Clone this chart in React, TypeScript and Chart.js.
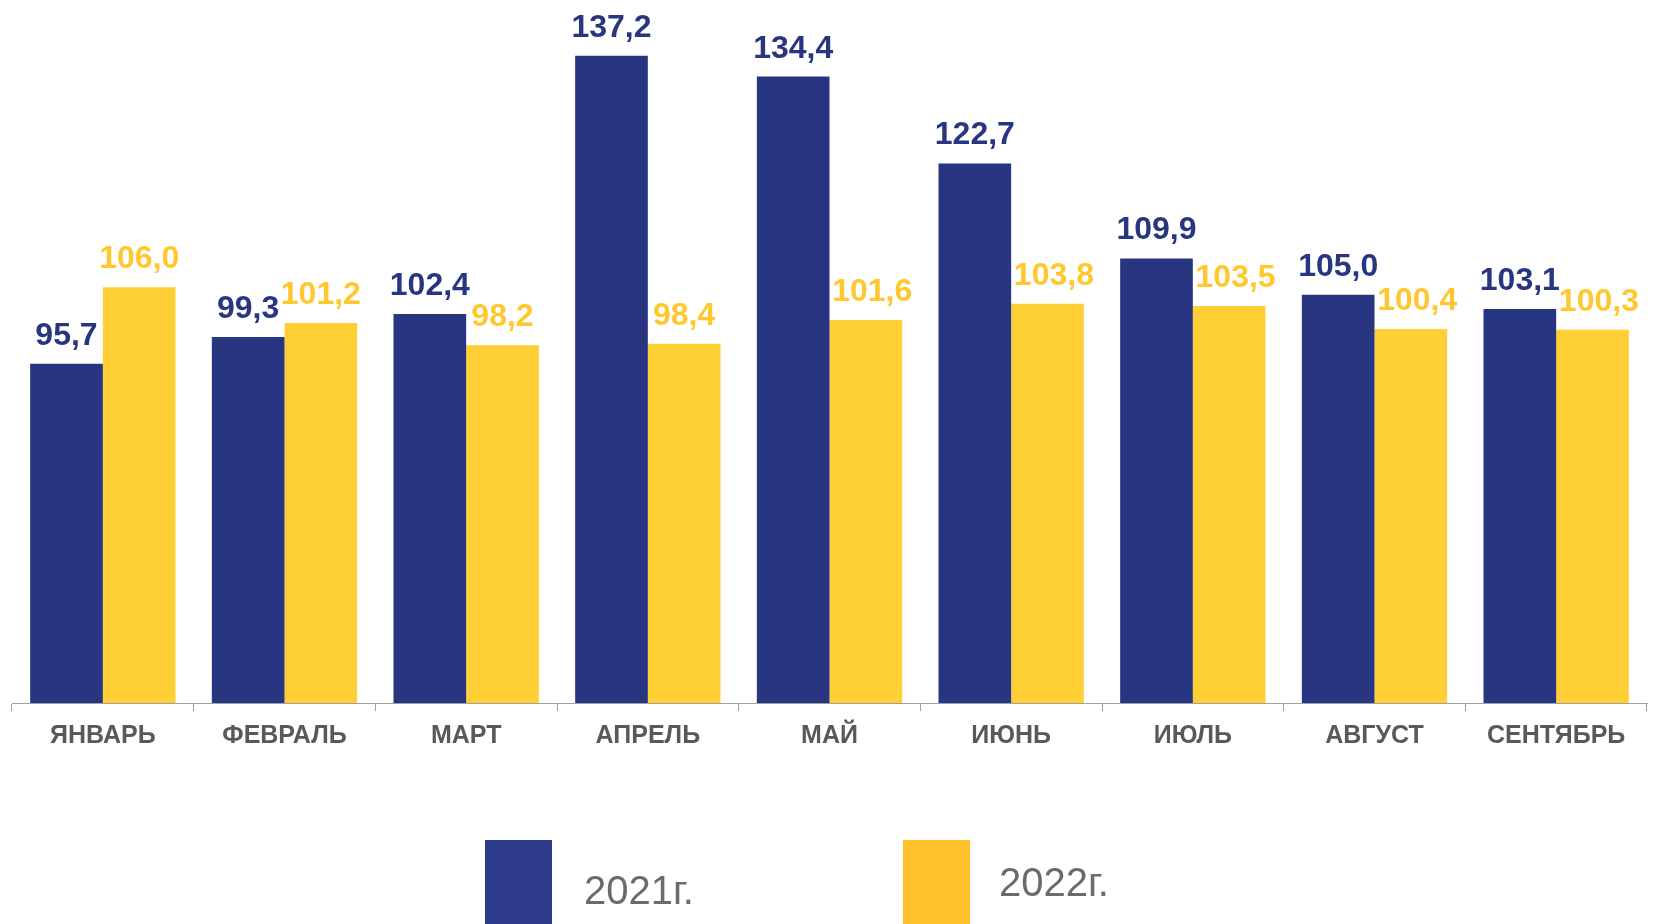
import React, { useEffect, useRef } from "react";
import { Chart, registerables } from "chart.js";

Chart.register(...registerables);

const categories = ["ЯНВАРЬ", "ФЕВРАЛЬ", "МАРТ", "АПРЕЛЬ", "МАЙ", "ИЮНЬ", "ИЮЛЬ", "АВГУСТ", "СЕНТЯБРЬ"];
const values2021 = [95.7, 99.3, 102.4, 137.2, 134.4, 122.7, 109.9, 105.0, 103.1];
const values2022 = [106.0, 101.2, 98.2, 98.4, 101.6, 103.8, 103.5, 100.4, 100.3];
const seriesLabels = ["2021г.", "2022г."];

const FONT = '"Liberation Sans", Arial, sans-serif';
const barColors = ["#283580", "#FFD035"];
const labelColors = ["#283580", "#FFC82E"];
const legendColors = ["#2E3A8A", "#FFC22D"];

const fmt = (v: number) => v.toFixed(1).replace(".", ",");

const valueLabelPlugin = {
  id: "valueLabels",
  afterDatasetsDraw(chart: any) {
    const ctx = chart.ctx;
    ctx.save();
    ctx.font = `bold 32px ${FONT}`;
    ctx.textAlign = "center";
    ctx.textBaseline = "alphabetic";
    const m0 = chart.getDatasetMeta(0);
    const m1 = chart.getDatasetMeta(1);
    const d0 = chart.data.datasets[0].data;
    const d1 = chart.data.datasets[1].data;
    const minGap = -1;
    for (let i = 0; i < d0.length; i++) {
      const t0 = fmt(d0[i]);
      const t1 = fmt(d1[i]);
      const w0 = ctx.measureText(t0).width;
      const w1 = ctx.measureText(t1).width;
      const x0 = m0.data[i].x;
      let x1 = m1.data[i].x;
      const overlap = x0 + w0 / 2 + minGap - (x1 - w1 / 2);
      if (overlap > 0) x1 += overlap;
      ctx.fillStyle = labelColors[0];
      ctx.fillText(t0, x0, m0.data[i].y - 19);
      ctx.fillStyle = labelColors[1];
      ctx.fillText(t1, x1, m1.data[i].y - 19);
    }
    ctx.restore();
  },
};

const legendPlugin = {
  id: "customLegend",
  afterDraw(chart: any) {
    const ctx = chart.ctx;
    ctx.save();
    const boxes = [
      { x: 485, y: 840, tx: 584, ty: 904 },
      { x: 903, y: 840, tx: 999, ty: 896 },
    ];
    chart.data.datasets.forEach((ds: any, di: number) => {
      const b = boxes[di];
      ctx.fillStyle = legendColors[di];
      ctx.fillRect(b.x, b.y, 67, 90);
      ctx.font = `40px ${FONT}`;
      ctx.fillStyle = "#6B6B6B";
      ctx.textAlign = "left";
      ctx.textBaseline = "alphabetic";
      ctx.fillText(ds.label, b.tx, b.ty);
    });
    ctx.restore();
  },
};

export default function App() {
  const ref = useRef<HTMLCanvasElement | null>(null);

  useEffect(() => {
    if (!ref.current) return;
    const chart = new Chart(ref.current, {
      type: "bar",
      data: {
        labels: categories,
        datasets: [
          {
            label: seriesLabels[0],
            data: values2021,
            backgroundColor: barColors[0],
            borderWidth: 0,
            categoryPercentage: 0.8,
            barPercentage: 1.0,
          },
          {
            label: seriesLabels[1],
            data: values2022,
            backgroundColor: barColors[1],
            borderWidth: 0,
            categoryPercentage: 0.8,
            barPercentage: 1.0,
          },
        ],
      },
      options: {
        responsive: false,
        animation: false,
        layout: { padding: { left: 12, right: 10, top: 35, bottom: 163 } },
        plugins: {
          legend: { display: false },
          tooltip: { enabled: false },
        },
        scales: {
          x: {
            grid: {
              display: true,
              drawOnChartArea: false,
              drawTicks: true,
              tickLength: 8,
              color: "#A0A0A0",
              offset: true,
            },
            border: { display: true, color: "#A0A0A0", width: 1 },
            ticks: {
              color: "#595959",
              font: { family: FONT, size: 25, weight: "bold" },
              padding: 10,
              maxRotation: 0,
              autoSkip: false,
            },
          },
          y: {
            display: false,
            min: 50,
            max: 140,
          },
        },
      },
      plugins: [valueLabelPlugin, legendPlugin],
    });
    return () => chart.destroy();
  }, []);

  return (
    <div style={{ position: "absolute", left: 0, top: 0, width: 1657, height: 924, background: "#ffffff" }}>
      <canvas ref={ref} width={1657} height={924} />
    </div>
  );
}
